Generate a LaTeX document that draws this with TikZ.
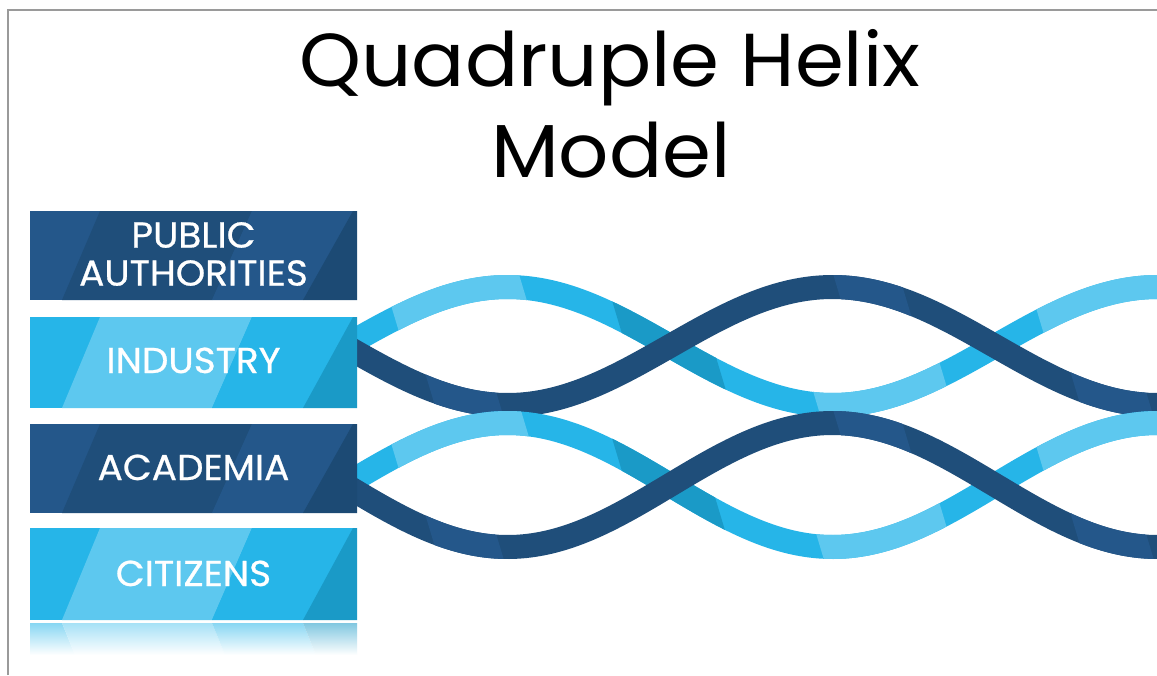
\documentclass[tikz,border=0pt]{standalone}
\usepackage{fontspec}
\setmainfont{Poppins}
\newfontfamily\boxfont[FakeBold=0.7,FakeStretch=1.04]{Poppins}
\newfontfamily\titlefont[FakeStretch=1.05]{Poppins}
\definecolor{L1}{HTML}{26B5E8}
\definecolor{L2}{HTML}{5DC8EF}
\definecolor{L3}{HTML}{1A9AC7}
\definecolor{D1}{HTML}{1F4E7A}
\definecolor{D2}{HTML}{24578A}
\definecolor{D3}{HTML}{1C4A74}
\definecolor{framegray}{HTML}{9A9A9A}
\newcommand\hseg[6]{%
  \begin{scope}
    \clip ({#2+0.3*(#5-#1(#2))},#5) -- ({#3+0.3*(#5-#1(#3))},#5)
       -- ({#3+0.3*(#6-#1(#3))},#6) -- ({#2+0.3*(#6-#1(#2))},#6) -- cycle;
    \draw[strand,#4] plot[domain={#2-70}:{#3+70},samples=80] (\x,{#1(\x)});
  \end{scope}}
\newcommand\bstripes[5]{%
  \fill[#3] (100,#1) -- (252,#1) -- (212,#2) -- (62,#2) -- cycle;
  \fill[#4] (252,#1) -- (353,#1) -- (303,#2) -- (212,#2) -- cycle;
  \fill[#5] (353,#1) -- (357,#1) -- (357,#2) -- (303,#2) -- cycle;}
\begin{document}
\begin{tikzpicture}[x=1pt,y=-1pt,
  declare function={
    ph(\x)=((\x-345)/325)*180;
    ful(\x)=346-59*sin(ph(\x));
    fud(\x)=346+59*sin(ph(\x));
    fll(\x)=485-62*sin(ph(\x));
    fld(\x)=485+62*sin(ph(\x));
  },
  strand/.style={line width=24pt, line cap=butt},
  boxnode/.style={minimum width=327pt, inner sep=0pt, outer sep=0pt, draw=none},
  boxtext/.style={text=white, font=\boxfont\fontsize{36}{38}\selectfont, inner sep=0pt, align=center},
  titletext/.style={text=black, font=\titlefont\fontsize{75}{92}\selectfont, inner sep=0pt}
]
\useasboundingbox (0,0) rectangle (1157,675);
\fill[white] (0,0) rectangle (1157,675);
% frame
\draw[framegray, line width=1.3pt] (8,675) -- (8,10) -- (1157,10);

% title
\node[titletext, anchor=base] (title1) at (610,86) {Quadruple Helix};
\node[titletext, anchor=base] (title2) at (611,177) {Model};

% ---------- upper helix ----------
\draw[strand,L1] plot[domain=340:1160,samples=200] (\x,{ful(\x)});
\hseg{ful}{395}{523}{L2}{255}{440}
\hseg{ful}{617}{721}{L3}{255}{440}
\hseg{ful}{817}{943}{L2}{255}{440}
\hseg{ful}{1040}{1230}{L2}{255}{440}
\draw[strand,D1] plot[domain=340:1160,samples=200] (\x,{fud(\x)});
\hseg{fud}{430}{500}{D2}{255}{440}
\hseg{fud}{837}{907}{D2}{255}{440}
\hseg{fud}{1075}{1150}{D2}{255}{440}

% ---------- lower helix ----------
\draw[strand,L1] plot[domain=340:1160,samples=200] (\x,{fll(\x)});
\hseg{fll}{395}{525}{L2}{395}{580}
\hseg{fll}{617}{720}{L3}{395}{580}
\hseg{fll}{820}{943}{L2}{395}{580}
\hseg{fll}{1040}{1230}{L2}{395}{580}
\draw[strand,D1] plot[domain=340:1160,samples=200] (\x,{fld(\x)});
\hseg{fld}{430}{500}{D2}{395}{580}
\hseg{fld}{837}{907}{D2}{395}{580}
\hseg{fld}{1075}{1150}{D2}{395}{580}

% ---------- boxes ----------
\node[boxnode, minimum height=89pt, fill=D2] (pub) at (193.5,255.5) {};
\bstripes{211}{300}{D1}{D2}{D3}
\node[boxtext] (publabel) at (193.5,254) {PUBLIC\\AUTHORITIES};

\node[boxnode, minimum height=91pt, fill=L1] (ind) at (193.5,362.5) {};
\bstripes{317}{408}{L2}{L1}{L3}
\node[boxtext, anchor=base] (indlabel) at (193.5,373) {INDUSTRY};

\node[boxnode, minimum height=89pt, fill=D2] (aca) at (193.5,468.5) {};
\bstripes{424}{513}{D1}{D2}{D3}
\node[boxtext, anchor=base] (acalabel) at (193.5,480) {ACADEMIA};

\node[boxnode, minimum height=92pt, fill=L1] (cit) at (193.5,574) {};
\bstripes{528}{620}{L2}{L1}{L3}
\node[boxtext, anchor=base] (citlabel) at (193.5,586) {CITIZENS};

% reflection
\shade[top color=L1!55!white, bottom color=white] (30,623) -- (62,623) -- (75,655) -- (30,655) -- cycle;
\shade[top color=L2!55!white, bottom color=white] (62,623) -- (212,623) -- (225,655) -- (75,655) -- cycle;
\shade[top color=L1!55!white, bottom color=white] (212,623) -- (303,623) -- (316,655) -- (225,655) -- cycle;
\shade[top color=L3!55!white, bottom color=white] (303,623) -- (357,623) -- (357,655) -- (316,655) -- cycle;
\end{tikzpicture}
\end{document}
